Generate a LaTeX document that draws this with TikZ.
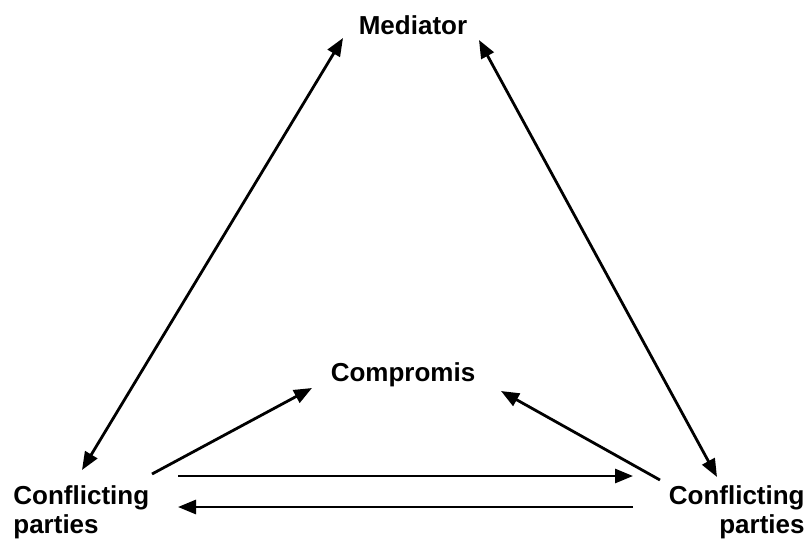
\documentclass[tikz,border=0pt]{standalone}
\usepackage{fontspec}
\setmainfont{Liberation Sans}
\usetikzlibrary{arrows.meta,positioning}

\begin{document}
\begin{tikzpicture}[
  x=0.5pt, y=-0.5pt,
  party/.style={font=\fontsize{13}{14.5}\selectfont\bfseries, inner sep=2pt},
  arrow/.style={line width=1.4pt, -{Triangle[length=9pt,width=7pt]}},
  twoway/.style={line width=1.4pt, {Triangle[length=9pt,width=7pt]}-{Triangle[length=9pt,width=7pt]}},
]
\useasboundingbox (0,0) rectangle (811,538);
\node[party] (med) at (413,25) {Mediator};
\node[party] (comp) at (403,375) {Compromis};
\node[party, align=left, anchor=north west] (left) at (9,481) {Conflicting\\parties};
\node[party, align=right, anchor=north east] (right) at (809,481) {Conflicting\\parties};
% arrow end points
\coordinate (medL) at (343,38);
\coordinate (medR) at (479,40);
\coordinate (leftT) at (82,470);
\coordinate (rightT) at (717,477);
\coordinate (leftC) at (152,474);
\coordinate (rightC) at (660,480);
\coordinate (compL) at (312,388);
\coordinate (compR) at (501,391);
\coordinate (upperL) at (178,476);
\coordinate (upperR) at (633,476);
\coordinate (lowerL) at (178,507);
\coordinate (lowerR) at (633,507);
\draw[twoway] (leftT) -- (medL);
\draw[twoway] (rightT) -- (medR);
\draw[arrow] (leftC) -- (compL);
\draw[arrow] (rightC) -- (compR);
\draw[arrow] (upperL) -- (upperR);
\draw[arrow] (lowerR) -- (lowerL);
\end{tikzpicture}
\end{document}
